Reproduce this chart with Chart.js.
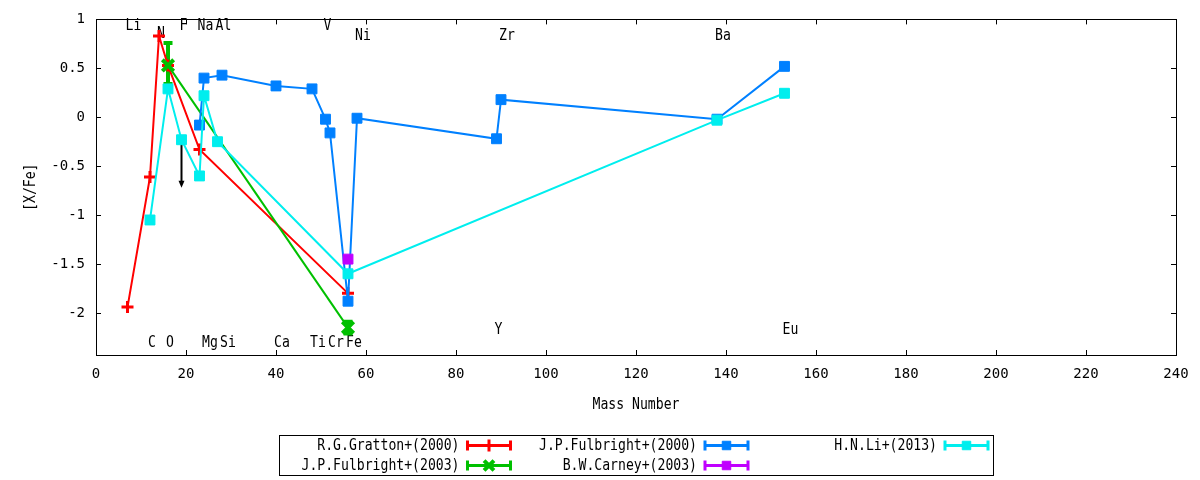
<!DOCTYPE html>
<html>
<head>
<meta charset="utf-8">
<script src="https://cdn.jsdelivr.net/npm/chart.js@4.4.1/dist/chart.umd.min.js"></script>
<style>
html,body{margin:0;padding:0;background:#ffffff;}
#wrap{width:1200px;height:480px;}
</style>
</head>
<body>
<div id="wrap"><canvas id="c" width="1200" height="480"></canvas></div>
<script>
// ---- tick labels ----
const xTicks = [0,20,40,60,80,100,120,140,160,180,200,220,240];
const yTicks = [-2,-1.5,-1,-0.5,0,0.5,1];

// ---- series: R.G.Gratton+(2000) ----
const grattonMass = [7,12,14,16,23,56];
const grattonVal  = [-1.94,-0.61,0.83,0.53,-0.33,-1.80];

// ---- series: J.P.Fulbright+(2003) ----
const fulb03Mass  = [16,56];
const fulb03Val   = [0.53,-2.15];
const fulb03ErrLo = [0.34,-2.21];
const fulb03ErrHi = [0.76,-2.09];

// ---- series: J.P.Fulbright+(2000) ----
const fulb00Mass = [23,24,28,40,48,51,52,56,58,89,90,138,153];
const fulb00Val  = [-0.08,0.40,0.43,0.32,0.29,-0.02,-0.16,-1.88,-0.01,-0.22,0.18,-0.02,0.52];

// ---- series: B.W.Carney+(2003) ----
const carneyMass = [56];
const carneyVal  = [-1.45];

// ---- series: H.N.Li+(2013) ----
const liMass = [12,16,19,23,24,27,56,138,153];
const liVal  = [-1.05,0.29,-0.23,-0.60,0.22,-0.25,-1.60,-0.03,0.245];

// ---- upper limit arrow (F, H.N.Li+ 2013) ----
const limitMass = [19];
const limitFrom = [-0.23];
const limitTo   = [-0.72];

// ---- element labels ----
const elemNames = ['Li','N','F','Na','Al','V','Ni','Zr','Ba','C','O','Mg','Si','Ca','Ti','Cr','Fe','Y','Eu'];
const elemMass  = [7,14,19,23,27,51,58,90,138,12,16,24,28,40,48,52,56,89,153];
const elemY     = [0.93,0.85,0.93,0.93,0.93,0.93,0.83,0.83,0.83,-2.31,-2.31,-2.31,-2.31,-2.31,-2.31,-2.31,-2.31,-2.17,-2.17];

const seriesLabels = ['R.G.Gratton+(2000)','J.P.Fulbright+(2003)','J.P.Fulbright+(2000)','B.W.Carney+(2003)','H.N.Li+(2013)'];
const seriesColors = ['#ff0000','#00c000','#0080ff','#c000ff','#00eeee'];

const FONT = 'DejaVu Sans Mono';
const pts = (xs, ys) => xs.map((x, i) => ({x: x, y: ys[i]}));

function mkSet(idx, xs, ys, style, radius, pbw, order) {
  return {
    label: seriesLabels[idx],
    data: pts(xs, ys),
    showLine: true,
    borderColor: seriesColors[idx],
    backgroundColor: seriesColors[idx],
    borderWidth: 2,
    pointStyle: style,
    pointRadius: radius,
    pointBorderWidth: pbw,
    pointBackgroundColor: seriesColors[idx],
    pointBorderColor: seriesColors[idx],
    tension: 0,
    order: order
  };
}

function drawTxt(ctx, txt, x, y, align, rot, size) {
  ctx.save();
  ctx.translate(x, y);
  if (rot) ctx.rotate(rot);
  ctx.scale(0.82, 1);
  ctx.font = (size || 16) + 'px "' + FONT + '"';
  ctx.textAlign = align;
  ctx.textBaseline = 'middle';
  ctx.fillStyle = '#000000';
  ctx.fillText(txt, 0, 0);
  ctx.restore();
}

const gnuplotDecor = {
  id: 'gnuplotDecor',
  beforeDatasetsDraw(chart) {
    const ctx = chart.ctx, a = chart.chartArea;
    const xs = chart.scales.x, ys = chart.scales.y;
    ctx.save();
    // frame
    ctx.strokeStyle = '#000000';
    ctx.lineWidth = 1;
    ctx.strokeRect(Math.round(a.left) + 0.5, Math.round(a.top) + 0.5, Math.round(a.right - a.left), Math.round(a.bottom - a.top));
    // inward ticks, mirrored
    const tl = 5;
    ctx.beginPath();
    xs.ticks.forEach(t => {
      const px = Math.round(xs.getPixelForValue(t.value)) + 0.5;
      ctx.moveTo(px, a.bottom); ctx.lineTo(px, a.bottom - tl);
      ctx.moveTo(px, a.top); ctx.lineTo(px, a.top + tl);
    });
    ys.ticks.forEach(t => {
      const py = Math.round(ys.getPixelForValue(t.value)) + 0.5;
      ctx.moveTo(a.left, py); ctx.lineTo(a.left + tl, py);
      ctx.moveTo(a.right, py); ctx.lineTo(a.right - tl, py);
    });
    ctx.stroke();
    // element labels
    elemNames.forEach((n, i) => {
      drawTxt(ctx, n, xs.getPixelForValue(elemMass[i]) - 2, ys.getPixelForValue(elemY[i]), 'left');
    });
    // error bars of J.P.Fulbright+(2003)
    ctx.strokeStyle = seriesColors[1];
    ctx.lineWidth = 4;
    fulb03Mass.forEach((m, i) => {
      const px = xs.getPixelForValue(m);
      const p1 = ys.getPixelForValue(fulb03ErrLo[i]);
      const p2 = ys.getPixelForValue(fulb03ErrHi[i]);
      ctx.beginPath();
      ctx.moveTo(px, p1); ctx.lineTo(px, p2);
      ctx.moveTo(px - 4.5, p1); ctx.lineTo(px + 4.5, p1);
      ctx.moveTo(px - 4.5, p2); ctx.lineTo(px + 4.5, p2);
      ctx.stroke();
    });
    // upper limit arrow
    ctx.strokeStyle = '#000000';
    ctx.fillStyle = '#000000';
    ctx.lineWidth = 2;
    limitMass.forEach((m, i) => {
      const px = xs.getPixelForValue(m);
      const p1 = ys.getPixelForValue(limitFrom[i]);
      const p2 = ys.getPixelForValue(limitTo[i]);
      ctx.beginPath();
      ctx.moveTo(px, p1); ctx.lineTo(px, p2 - 5);
      ctx.stroke();
      ctx.beginPath();
      ctx.moveTo(px - 3, p2 - 7); ctx.lineTo(px + 3, p2 - 7); ctx.lineTo(px, p2);
      ctx.closePath();
      ctx.fill();
    });
    ctx.restore();
  },
  afterDraw(chart) {
    const ctx = chart.ctx, a = chart.chartArea;
    ctx.save();
    // axis titles
    drawTxt(ctx, 'Mass Number', (a.left + a.right) / 2, 405, 'center');
    drawTxt(ctx, '[X/Fe]', 31, (a.top + a.bottom) / 2, 'center', -Math.PI / 2);
    // legend box
    ctx.strokeStyle = '#000000';
    ctx.lineWidth = 1;
    ctx.strokeRect(279.5, 435.5, 714, 40);
    const entries = [
      {i:0, col:0, row:0, style:'cross', r:6, bw:3},
      {i:1, col:0, row:1, style:'crossRot', r:7, bw:4},
      {i:2, col:1, row:0, style:'rect', r:6, bw:1},
      {i:3, col:1, row:1, style:'rect', r:6, bw:1},
      {i:4, col:2, row:0, style:'rect', r:6, bw:1}
    ];
    const textRight = [459.5, 697, 937];
    const rowY = [445.5, 465.5];
    entries.forEach(e => {
      const y = rowY[e.row];
      drawTxt(ctx, seriesLabels[e.i], textRight[e.col], y, 'right');
      const x1 = textRight[e.col] + 8, x2 = x1 + 43;
      const c = seriesColors[e.i];
      ctx.strokeStyle = c; ctx.fillStyle = c;
      ctx.lineWidth = 3;
      ctx.beginPath();
      ctx.moveTo(x1, y); ctx.lineTo(x2, y);
      ctx.moveTo(x1, y - 5); ctx.lineTo(x1, y + 5);
      ctx.moveTo(x2, y - 5); ctx.lineTo(x2, y + 5);
      ctx.stroke();
      ctx.lineWidth = e.bw;
      Chart.helpers.drawPoint(ctx, {pointStyle: e.style, radius: e.r, borderWidth: e.bw, rotation: 0}, (x1 + x2) / 2, y);
    });
    ctx.restore();
  }
};

new Chart(document.getElementById('c'), {
  type: 'scatter',
  data: {
    datasets: [
      mkSet(0, grattonMass, grattonVal, 'cross', 6, 3, 5),
      mkSet(1, fulb03Mass, fulb03Val, 'crossRot', 8, 4, 4),
      mkSet(2, fulb00Mass, fulb00Val, 'rect', 7, 1, 3),
      mkSet(3, carneyMass, carneyVal, 'rect', 7, 1, 2),
      mkSet(4, liMass, liVal, 'rect', 7, 1, 1)
    ]
  },
  options: {
    responsive: false,
    devicePixelRatio: 1,
    animation: false,
    layout: {padding: {top: 18, right: 24, left: 0, bottom: 0}},
    plugins: {legend: {display: false}, tooltip: {enabled: false}},
    scales: {
      x: {
        type: 'linear', min: 0, max: 240,
        afterFit(s) { s.height = 125; },
        afterBuildTicks(s) { s.ticks = xTicks.map(v => ({value: v})); },
        grid: {display: false, drawTicks: false},
        border: {display: false},
        ticks: {padding: 11, color: '#000000', font: {family: FONT, size: 14}, maxRotation: 0, autoSkip: false,
                callback: v => String(v)}
      },
      y: {
        type: 'linear', min: -2.43, max: 1,
        afterFit(s) { s.width = 96; },
        afterBuildTicks(s) { s.ticks = yTicks.map(v => ({value: v})); },
        grid: {display: false, drawTicks: false},
        border: {display: false},
        ticks: {padding: 11, color: '#000000', font: {family: FONT, size: 14}, autoSkip: false,
                callback: v => String(v)}
      }
    }
  },
  plugins: [gnuplotDecor]
});
</script>
</body>
</html>
